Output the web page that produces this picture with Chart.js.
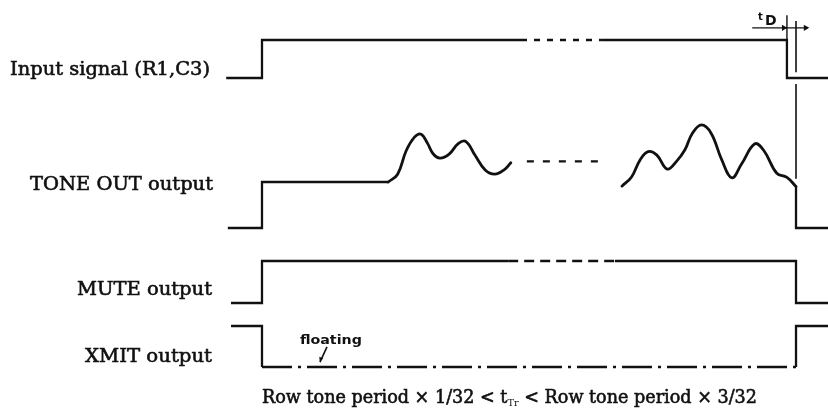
<!DOCTYPE html>
<html><head><meta charset="utf-8">
<script src="https://cdn.jsdelivr.net/npm/chart.js@4.4.0/dist/chart.umd.min.js"></script>
<style>html,body{margin:0;padding:0;background:#fff;}#wrap{width:828px;height:414px;position:relative;}</style>
</head><body><div id="wrap"><canvas id="c"></canvas></div>
<script>
// ---------- DATA (time in arbitrary units: 0 = input rise, 100 = output release) ----------
const signalNames = ['Input signal (R1,C3)', 'TONE OUT output', 'MUTE output', 'XMIT output'];

const inputT     = [-6.7, 0, 0, 48.5, 63.5, 98.3, 98.3, 107];
const inputLvl   = [0, 0, 1, 1, 1, 1, 0, 0];
const inputBreak = [48.5, 63.5];

const toneStepT   = [-6.4, 0, 0, 23.65];
const toneStepLvl = [0, 0, 1, 1];
const toneWave1T   = [23.65, 25.4, 27.0, 28.6, 29.8, 31.0, 32.0, 33.3, 35.0, 36.8, 38.2, 39.9, 41.8, 43.6, 45.4, 46.6];
const toneWave1Lvl = [1.0, 1.17, 1.68, 1.98, 2.04, 1.84, 1.62, 1.52, 1.60, 1.84, 1.88, 1.58, 1.26, 1.17, 1.27, 1.42];
const toneBreakT   = [49.6, 63.3];
const toneBreakLvl = [1.45, 1.45];
const toneWave2T   = [67.4, 69.2, 70.8, 72.3, 73.9, 75.9, 77.7, 79.2, 80.6, 82.3, 84.1, 86.1, 88.0, 89.8, 92.3, 94.0, 96.4, 98.3, 100];
const toneWave2Lvl = [0.91, 1.11, 1.48, 1.66, 1.59, 1.28, 1.46, 1.70, 2.06, 2.24, 2.06, 1.48, 1.09, 1.39, 1.83, 1.68, 1.19, 1.10, 0.90];
const toneFallT   = [100, 100, 107];
const toneFallLvl = [0.90, 0, 0];

const muteT     = [-5.8, 0, 0, 46.1, 66.1, 100, 100, 107];
const muteLvl   = [0, 0, 1, 1, 1, 1, 0, 0];
const muteBreak = [46.1, 66.1];

const xmitT     = [-5.8, 0, 0, 100, 100, 107];
const xmitLvl   = [1, 1, 0, 0, 1, 1];
const xmitFloat = [0, 100];

// tD dimension (input-lane levels) and "floating" leader (xmit-lane levels)
const tdMarkT = [98.3, 100];
const tdArrowT = [91.8, 102.2];
const floatLeaderT = [12.17, 10.86];
const floatLeaderLvl = [0.49, 0.12];

// ---------- LAYOUT ----------
const lanes = {
  input: {base: 8.4,   amp: 0.95,  labelLvl: 0.08},
  tone:  {base: 4.65,  amp: 1.15,  labelLvl: 0.83},
  mute:  {base: 2.775, amp: 1.05,  labelLvl: 0.19},
  xmit:  {base: 1.175, amp: 1.025, labelLvl: 0.12}
};
const laneOrder = ['input', 'tone', 'mute', 'xmit'];
const INK = '#111';

function pts(ts, lv, lane) {
  const L = lanes[lane];
  return ts.map((t, i) => ({x: t, y: L.base + lv[i] * L.amp}));
}
function brk(range, dash) {
  return {
    borderDash: ctx => {
      const a = ctx.p0.parsed.x, b = ctx.p1.parsed.x;
      return (a < b && a >= range[0] && b <= range[1]) ? dash : undefined;
    }
  };
}
const base = {borderColor: INK, pointRadius: 0, borderWidth: 2.3, fill: false, tension: 0,
  borderCapStyle: 'butt', borderJoinStyle: 'miter', clip: false};

const I = lanes.input;
const datasets = [
  Object.assign({}, base, {data: pts(inputT, inputLvl, 'input'), segment: brk(inputBreak, [6, 7])}),
  Object.assign({}, base, {data: pts(toneStepT, toneStepLvl, 'tone')}),
  Object.assign({}, base, {data: pts(toneWave1T, toneWave1Lvl, 'tone'), tension: 0.4, borderWidth: 2.8, borderCapStyle: 'round'}),
  Object.assign({}, base, {data: pts(toneBreakT, toneBreakLvl, 'tone'), borderDash: [7, 9]}),
  Object.assign({}, base, {data: pts(toneWave2T, toneWave2Lvl, 'tone'), tension: 0.4, borderWidth: 2.8, borderCapStyle: 'round'}),
  Object.assign({}, base, {data: pts(toneFallT, toneFallLvl, 'tone')}),
  Object.assign({}, base, {data: pts(muteT, muteLvl, 'mute'), segment: brk(muteBreak, [10, 6])}),
  Object.assign({}, base, {data: pts(xmitT, xmitLvl, 'xmit'), segment: brk(xmitFloat, [30, 6, 3, 6])}),
  // tD dimension marks
  Object.assign({}, base, {borderWidth: 1.4, data: pts([tdMarkT[0], tdMarkT[0]], [1.65, 1.0], 'input')}),
  Object.assign({}, base, {borderWidth: 1.6, data: pts([tdMarkT[1], tdMarkT[1]], [1.5, 0.15], 'input')}),
  Object.assign({}, base, {borderWidth: 1.6, data: [{x: tdMarkT[1], y: I.base - 0.15}, {x: tdMarkT[1], y: lanes.tone.base + 1.07 * lanes.tone.amp}]}),
  Object.assign({}, base, {borderWidth: 1.4, data: pts(tdArrowT, [1.32, 1.32], 'input')}),
  Object.assign({}, base, {borderWidth: 0, showLine: false, pointStyle: 'triangle', pointRadius: 3.6,
    pointBackgroundColor: INK, pointBorderColor: INK, pointBorderWidth: 0, rotation: [90, 90],
    data: pts([tdMarkT[0] - 0.6, tdArrowT[1] - 0.4], [1.32, 1.32], 'input')}),
  // floating leader
  Object.assign({}, base, {borderWidth: 1.6, data: pts(floatLeaderT, floatLeaderLvl, 'xmit')}),
  Object.assign({}, base, {borderWidth: 0, showLine: false, pointStyle: 'triangle', pointRadius: 2.6,
    pointBackgroundColor: INK, pointBorderColor: INK, pointBorderWidth: 0, rotation: 205,
    data: pts([floatLeaderT[1] + 0.15], [floatLeaderLvl[1] + 0.08], 'xmit')})
];

function fitText(ctx, text, x, y, width, align, stroke) {
  const w = ctx.measureText(text).width;
  const sx = width / w;
  ctx.save();
  const left = align === 'right' ? x - width : x;
  ctx.translate(left, y);
  ctx.scale(sx, 1);
  ctx.textAlign = 'left';
  ctx.fillText(text, 0, 0);
  if (stroke) { ctx.lineWidth = stroke; ctx.strokeText(text, 0, 0); }
  ctx.restore();
}

const textPlugin = {
  id: 'texts',
  afterDraw(chart) {
    const ctx = chart.ctx, xs = chart.scales.x, ys = chart.scales.y;
    ctx.save();
    ctx.fillStyle = INK;
    ctx.strokeStyle = INK;
    ctx.textBaseline = 'alphabetic';
    const labelWidths = [200, 183, 135, 127];
    const labelRight = [210, 213, 212, 212];
    laneOrder.forEach((k, i) => {
      const L = lanes[k];
      ctx.font = '19px "DejaVu Serif"';
      const y = ys.getPixelForValue(L.base + L.labelLvl * L.amp);
      fitText(ctx, signalNames[i], labelRight[i], y, labelWidths[i], 'right', 0.6);
    });
    // floating
    ctx.font = 'bold 12px "DejaVu Sans"';
    fitText(ctx, 'floating', xs.getPixelForValue(7.1), ys.getPixelForValue(lanes.xmit.base + 0.56 * lanes.xmit.amp), 62, 'left');
    // tD
    const ty = ys.getPixelForValue(I.base + 1.40 * I.amp);
    ctx.font = 'bold 10px "DejaVu Sans"';
    ctx.fillText('t', xs.getPixelForValue(92.9), ty - 5);
    ctx.font = 'bold 14px "DejaVu Sans"';
    ctx.fillText('D', xs.getPixelForValue(94.2), ty);
    // bottom condition text
    const p1 = 'Row tone period \u00D7 1/32 < t', sub = 'Tr', p2 = ' < Row tone period \u00D7 3/32';
    ctx.font = '18px "DejaVu Serif"';
    const w1 = ctx.measureText(p1).width, w2 = ctx.measureText(p2).width;
    ctx.font = '10px "DejaVu Serif"';
    const ws = ctx.measureText(sub).width;
    const total = w1 + ws + w2, target = 495, sx = target / total;
    const bx = xs.getPixelForValue(0), by = ys.getPixelForValue(0.275);
    ctx.translate(bx, by);
    ctx.scale(sx, 1);
    ctx.textAlign = 'left';
    ctx.lineWidth = 0.6;
    ctx.font = '18px "DejaVu Serif"';
    ctx.fillText(p1, 0, 0); ctx.strokeText(p1, 0, 0);
    ctx.font = '10px "DejaVu Serif"';
    ctx.fillText(sub, w1, 3);
    ctx.font = '18px "DejaVu Serif"';
    ctx.fillText(p2, w1 + ws, 0); ctx.strokeText(p2, w1 + ws, 0);
    ctx.restore();
  }
};

new Chart(document.getElementById('c'), {
  type: 'line',
  data: {datasets},
  options: {
    responsive: true, maintainAspectRatio: false, animation: false,
    layout: {padding: 0, autoPadding: false},
    plugins: {legend: {display: false}, tooltip: {enabled: false}, title: {display: false}},
    events: [],
    scales: {
      x: {type: 'linear', min: -49.06, max: 105.99, display: false},
      y: {type: 'linear', min: 0, max: 10.35, display: false}
    }
  },
  plugins: [textPlugin]
});
</script>
</body></html>
